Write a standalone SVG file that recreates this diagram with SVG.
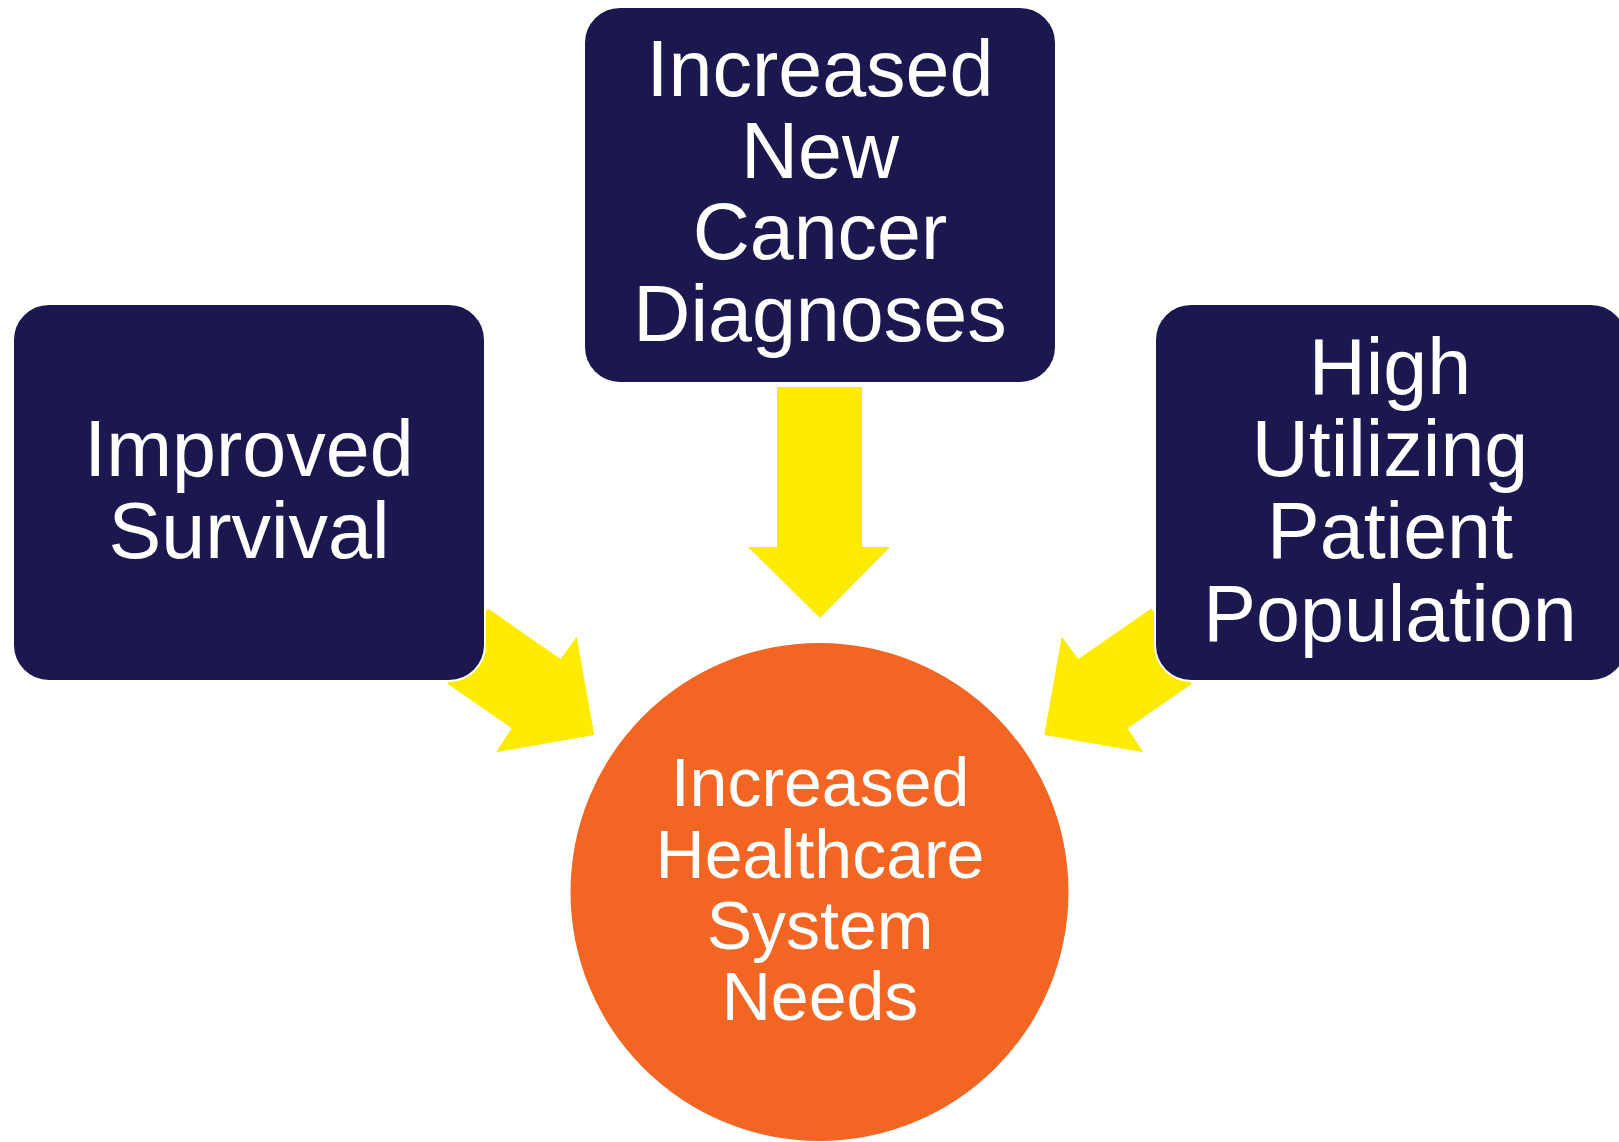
<svg xmlns="http://www.w3.org/2000/svg" width="1619" height="1142" viewBox="0 0 1619 1142">
<style>
.box{fill:#1B1850;stroke:#ffffff;stroke-width:2}
.arrow{fill:#FFEB00}
.t{font-family:"Liberation Sans",Arial,sans-serif;fill:#ffffff;text-anchor:middle}
.tb{font-size:79px}
.tc{font-size:68px}
</style>
<rect width="1619" height="1142" fill="#ffffff"/>
<g id="connectors">
<polygon class="arrow" points="777,387 862,387 862,547 890,547 820,618 748,547 777,547"/>
<polygon class="arrow" points="487.7,608.3 560.7,659 576.7,636.7 594.3,735 496,752.3 511.7,728.3 447.7,684"/>
<polygon class="arrow" points="1151.7,608.3 1078.3,659 1061.7,636.7 1044.3,735 1143.3,752.3 1127.7,728.3 1191.7,684"/>
</g>
<g id="node-top">
<rect class="box" x="584" y="7" width="472" height="376" rx="36"/>
<text class="t tb"><tspan x="820" y="96">Increased</tspan><tspan x="820" y="177.5">New</tspan><tspan x="820" y="259">Cancer</tspan><tspan x="820" y="341">Diagnoses</tspan></text>
</g>
<g id="node-left">
<rect class="box" x="13" y="304" width="472" height="377" rx="36"/>
<text class="t tb"><tspan x="249" y="476">Improved</tspan><tspan x="249" y="557.5">Survival</tspan></text>
</g>
<g id="node-right">
<rect class="box" x="1155" y="304" width="472" height="377" rx="36"/>
<text class="t tb"><tspan x="1390" y="393.5">High</tspan><tspan x="1390" y="476">Utilizing</tspan><tspan x="1390" y="557.5">Patient</tspan><tspan x="1390" y="641">Population</tspan></text>
</g>
<g id="node-center">
<circle cx="819.5" cy="892" r="249" fill="#F26522"/>
<text class="t tc"><tspan x="820" y="806">Increased</tspan><tspan x="820" y="878">Healthcare</tspan><tspan x="820" y="949">System</tspan><tspan x="820" y="1020">Needs</tspan></text>
</g>
</svg>
